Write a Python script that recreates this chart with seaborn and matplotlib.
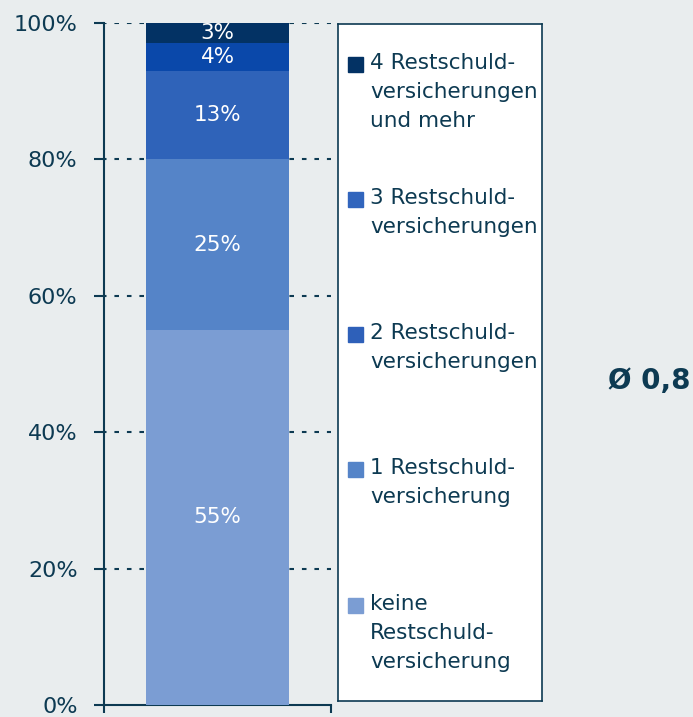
import numpy as np
import pandas as pd
import matplotlib
matplotlib.use('Agg')
import matplotlib.pyplot as plt
from matplotlib.patches import Rectangle
import seaborn as sns

# Daten
kategorien = ['keine Restschuldversicherung', '1 Restschuldversicherung',
              '2 Restschuldversicherungen', '3 Restschuldversicherungen',
              '4 Restschuldversicherungen und mehr']
anteile = [55, 25, 13, 4, 3]
farben = ['#7b9dd3', '#5584c8', '#2f63b9', '#0a48aa', '#033264']
# Legendenfarben wie im Original (3 und 2 fast gleich)
legenden_farben = ['#7b9dd3', '#5584c8', '#2e60b9', '#3165bd', '#033264']
legenden_text = ['keine\nRestschuld-\nversicherung',
                 '1 Restschuld-\nversicherung',
                 '2 Restschuld-\nversicherungen',
                 '3 Restschuld-\nversicherungen',
                 '4 Restschuld-\nversicherungen\nund mehr']
y_ticks = [0, 20, 40, 60, 80, 100]
durchschnitt = 'Ø 0,8'

bg = '#e9edee'
dunkel = '#0d3a52'

sns.set_theme(style='white')
plt.rcParams['font.family'] = ['DejaVu Sans']

fig = plt.figure(figsize=(6.93, 7.17), dpi=100, facecolor=bg)
ax = fig.add_axes([104 / 693, 12 / 717, 227 / 693, 682 / 717], facecolor=bg)

# gestapelte Balken: kumulierte Summen von oben nach unten übereinander zeichnen
kumuliert = np.cumsum(anteile)
for i in range(len(anteile) - 1, -1, -1):
    df = pd.DataFrame({'x': ['gesamt'], 'y': [kumuliert[i]]})
    sns.barplot(data=df, x='x', y='y', color=farben[i], saturation=1,
                width=0.63, ax=ax, zorder=3, linewidth=0)

unten = kumuliert - np.array(anteile)
for i, v in enumerate(anteile):
    ax.text(0, unten[i] + v / 2, f'{v}%', ha='center', va='center',
            color='white', fontsize=15.5, zorder=4)

ax.set_ylim(0, 100)
ax.set_xlim(-0.5, 0.5)
ax.set_yticks(y_ticks)
ax.set_yticklabels([f'{t}%' for t in y_ticks], fontsize=16, color=dunkel)
ax.set_xticks([-0.5, 0.5])
ax.set_xticklabels(['', ''])
ax.set_xlabel('')
ax.set_ylabel('')
for t in y_ticks[1:]:
    ax.axhline(t, color=dunkel, linestyle=(1, (2.2, 3.8)), linewidth=1.5,
               zorder=1, clip_on=(t == 100))
ax.tick_params(axis='y', direction='out', length=7, width=1.5, color=dunkel, pad=12, left=True)
ax.tick_params(axis='x', direction='out', length=6, width=1.5, color=dunkel, bottom=True)
for s in ['top', 'right']:
    ax.spines[s].set_visible(False)
for s in ['left', 'bottom']:
    ax.spines[s].set_color(dunkel)
    ax.spines[s].set_linewidth(1.5)

# Legende als eigener Kasten
lax = fig.add_axes([338 / 693, 16 / 717, 204 / 693, 677 / 717], facecolor='white')
lax.set_xlim(338, 542)
lax.set_ylim(701, 24)
lax.set_xticks([])
lax.set_yticks([])
for s in lax.spines.values():
    s.set_color(dunkel)
    s.set_linewidth(1.2)
oben = [598, 462, 327, 192, 57]
for i in range(len(anteile)):
    lax.add_patch(Rectangle((348, oben[i]), 15, 15, color=legenden_farben[i]))
    lax.text(370, oben[i] - 4, legenden_text[i], ha='left', va='top',
             fontsize=15.5, color=dunkel, linespacing=1.55)

fig.text(690 / 693, 1 - 381 / 717, durchschnitt, ha='right', va='center',
         fontsize=20, fontweight='bold', color=dunkel)

fig.savefig('out.png', dpi=100, facecolor=bg)
